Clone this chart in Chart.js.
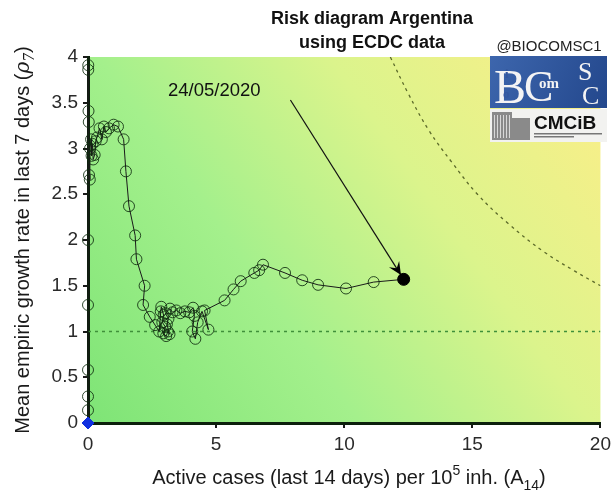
<!DOCTYPE html>
<html>
<head>
<meta charset="utf-8">
<script src="https://cdn.jsdelivr.net/npm/chart.js@4.4.1/dist/chart.umd.min.js"></script>
<style>
  html, body { margin: 0; padding: 0; background: #fff; }
  #wrap { width: 616px; height: 498px; position: relative; }
</style>
</head>
<body>
<div id="wrap"><canvas id="risk"></canvas></div>
<script>
// Argentina: active cases in last 14 days per 1e5 inh. (A14) against mean growth rate rho7
var casesA14 = [
  0.00, 0.00, 0.00, 0.00, 0.00, 0.00, 0.01, 0.01, 0.02, 0.03,
  0.04, 0.07, 0.08, 0.12, 0.14, 0.18, 0.20, 0.26, 0.30, 0.35,
  0.45, 0.54, 0.62, 0.70, 0.82, 1.00, 1.17, 1.39, 1.48, 1.60,
  1.84, 1.89, 2.21, 2.15, 2.41, 2.62, 2.78, 2.84, 2.86, 2.95,
  2.90, 3.02, 2.94, 3.05, 3.12, 3.18, 3.08, 3.14, 3.02, 3.20,
  3.30, 3.45, 3.60, 3.78, 3.95, 4.10, 4.15, 4.07, 4.19, 4.28,
  4.45, 4.70, 4.55, 5.33, 5.68, 5.96, 6.49, 6.68, 6.83, 7.69,
  8.36, 8.98, 10.07, 11.15, 12.32
];
var growthRho7 = [
  0.00, 0.14, 0.29, 0.58, 1.29, 2.00, 3.91, 3.86, 3.41, 3.29,
  2.71, 2.66, 3.00, 3.10, 2.92, 3.05, 2.88, 2.93, 3.08, 3.12,
  3.22, 3.10, 3.24, 3.18, 3.22, 3.26, 3.24, 3.10, 2.75, 2.37,
  2.05, 1.79, 1.50, 1.29, 1.16, 1.07, 1.00, 1.22, 1.27, 1.18,
  1.10, 1.05, 0.98, 0.95, 1.00, 0.97, 1.08, 1.14, 1.20, 1.25,
  1.21, 1.23, 1.20, 1.22, 1.21, 1.26, 1.17, 1.00, 0.92, 1.10,
  1.22, 1.02, 1.23, 1.34, 1.46, 1.55, 1.64, 1.67, 1.73, 1.64,
  1.56, 1.51, 1.47, 1.54, 1.57
];
var lastDate = "24/05/2020";

// dotted reference curve and rho7 = 1 line
var curveA14  = [11.8, 12.5, 13.3, 14.2, 15.2, 16.4, 17.8, 19.0, 20.0];
var curveRho7 = [4.0, 3.6, 3.2, 2.85, 2.5, 2.18, 1.87, 1.66, 1.5];
var thresholdRho = 1;

// annotation arrow: from label to last point
var arrowA14  = [7.9, 12.32];
var arrowRho7 = [3.53, 1.57];

var xTicks = [0, 5, 10, 15, 20];
var yTicks = [0, 0.5, 1, 1.5, 2, 2.5, 3, 3.5, 4];

function pts(xs, ys) {
  return xs.map(function (x, i) { return { x: x, y: ys[i] }; });
}

var n = casesA14.length;
var ptStyle = casesA14.map(function (v, i) { return i === 0 ? 'rectRot' : 'circle'; });
var ptRadius = casesA14.map(function (v, i) { return i === 0 ? 6 : (i === n - 1 ? 6 : 5.5); });
var ptFill = casesA14.map(function (v, i) {
  if (i === 0) return '#1030e0';
  if (i === n - 1) return '#000';
  return 'rgba(0,0,0,0)';
});
var ptEdge = casesA14.map(function (v, i) {
  if (i === 0) return '#1030e0';
  if (i === n - 1) return '#000';
  return 'rgba(15,45,15,0.85)';
});

var FONT = '"Liberation Sans", Arial, sans-serif';

// green -> yellow risk background
var riskBackground = {
  id: 'riskBackground',
  beforeDraw: function (chart) {
    var a = chart.chartArea, ctx = chart.ctx;
    ctx.save();
    var g = ctx.createLinearGradient(a.left, a.bottom, a.right, a.top);
    g.addColorStop(0, '#7ee476');
    g.addColorStop(0.35, '#a4f08c');
    g.addColorStop(0.65, '#dbf48c');
    g.addColorStop(1, '#fdee88');
    ctx.fillStyle = g;
    ctx.fillRect(a.left, a.top, a.right - a.left, a.bottom - a.top);
    ctx.restore();
  }
};

// draws text pieces with sub/superscripts, returns width
function runs(ctx, parts, x, y, draw) {
  var w = 0;
  parts.forEach(function (p) {
    ctx.font = p.font;
    var dy = p.shift || 0;
    if (draw) ctx.fillText(p.t, x + w, y + dy);
    w += ctx.measureText(p.t).width;
  });
  return w;
}

var decorations = {
  id: 'decorations',
  afterDraw: function (chart) {
    var ctx = chart.ctx, a = chart.chartArea;
    var xs = chart.scales.x, ys = chart.scales.y;
    ctx.save();
    ctx.fillStyle = '#111';
    ctx.textBaseline = 'alphabetic';

    // title
    ctx.textAlign = 'center';
    ctx.font = 'bold 18px ' + FONT;
    ctx.fillText('Risk diagram Argentina', 372, 24);
    ctx.fillText('using ECDC data', 372, 48);

    // account tag
    ctx.font = '15px ' + FONT;
    ctx.fillStyle = '#222';
    ctx.fillText('@BIOCOMSC1', 549, 51);

    // BIOCOMSC logo
    var bx = 490, by = 56;
    var bg = ctx.createLinearGradient(bx, by, bx + 117, by + 52);
    bg.addColorStop(0, '#3d66ad');
    bg.addColorStop(1, '#23478c');
    ctx.fillStyle = bg;
    ctx.fillRect(bx, by, 117, 52);
    ctx.fillStyle = '#f4f4f4';
    ctx.textAlign = 'left';
    ctx.font = '48px "Liberation Serif", serif';
    ctx.fillText('B', bx + 4, by + 47);
    ctx.font = '44px "Liberation Serif", serif';
    ctx.fillText('C', bx + 34, by + 45);
    ctx.font = 'bold 15px "Liberation Serif", serif';
    ctx.fillText('om', bx + 49, by + 32);
    ctx.font = '26px "Liberation Serif", serif';
    ctx.fillText('S', bx + 88, by + 24);
    ctx.fillText('C', bx + 92, by + 48);
    ctx.fillStyle = '#3558a0';
    ctx.font = 'bold 13px "Liberation Serif", serif';
    ctx.fillText('i', bx + 15, by + 22);
    ctx.fillText('o', bx + 13, by + 42);

    // CMCiB logo
    var cx = 490, cy = 109;
    ctx.fillStyle = '#f2f2f0';
    ctx.fillRect(cx, cy, 117, 33);
    ctx.fillStyle = '#8a8a8a';
    ctx.fillRect(cx + 2, cy + 3, 20, 28);
    ctx.fillRect(cx + 22, cy + 9, 18, 22);
    ctx.fillStyle = '#d8d8d8';
    for (var k = 0; k < 6; k++) ctx.fillRect(cx + 4 + k * 3, cy + 6, 1, 23);
    ctx.fillStyle = '#111';
    ctx.font = 'bold 19px ' + FONT;
    ctx.fillText('CMCiB', cx + 44, cy + 20);
    ctx.fillStyle = '#777';
    ctx.fillRect(cx + 44, cy + 24, 68, 1.5);
    ctx.fillRect(cx + 44, cy + 27, 40, 1.5);

    // y axis title with rho_7
    var f = '20px ' + FONT;
    var fs = '14px ' + FONT;
    var yParts = [
      { t: 'Mean empiric growth rate in last 7 days (', font: f },
      { t: '\u03c1', font: 'italic 20px "DejaVu Serif", serif' },
      { t: '7', font: 'italic 14px "DejaVu Serif", serif', shift: 5 },
      { t: ')', font: f }
    ];
    ctx.fillStyle = '#1a1a1a';
    ctx.textAlign = 'left';
    ctx.translate(29, (a.top + a.bottom) / 2);
    ctx.rotate(-Math.PI / 2);
    var wy = runs(ctx, yParts, 0, 0, false);
    runs(ctx, yParts, -wy / 2, 0, true);
    ctx.setTransform(1, 0, 0, 1, 0, 0);

    // x axis title with 10^5 and A_14
    var xParts = [
      { t: 'Active cases (last 14 days) per 10', font: f },
      { t: '5', font: fs, shift: -9 },
      { t: ' inh. (A', font: f },
      { t: '14', font: fs, shift: 6 },
      { t: ')', font: f }
    ];
    var wx = runs(ctx, xParts, 0, 0, false);
    runs(ctx, xParts, 349 - wx / 2, 484, true);

    // date label and arrowhead
    ctx.font = '18.5px ' + FONT;
    ctx.fillStyle = '#111';
    ctx.textAlign = 'center';
    ctx.fillText(lastDate, xs.getPixelForValue(4.93), ys.getPixelForValue(3.57));

    var x0 = xs.getPixelForValue(arrowA14[0]), y0 = ys.getPixelForValue(arrowRho7[0]);
    var x1 = xs.getPixelForValue(arrowA14[1]), y1 = ys.getPixelForValue(arrowRho7[1]);
    var ang = Math.atan2(y1 - y0, x1 - x0);
    var tipX = x1 - Math.cos(ang) * 5, tipY = y1 - Math.sin(ang) * 5;
    ctx.translate(tipX, tipY);
    ctx.rotate(ang);
    ctx.beginPath();
    ctx.moveTo(0, 0);
    ctx.lineTo(-13, -6);
    ctx.lineTo(-8, 0);
    ctx.lineTo(-13, 6);
    ctx.closePath();
    ctx.fillStyle = '#000';
    ctx.fill();
    ctx.restore();
  }
};

new Chart(document.getElementById('risk'), {
  type: 'scatter',
  data: {
    datasets: [
      {
        data: pts(casesA14, growthRho7),
        showLine: true,
        borderColor: '#1a1a1a',
        borderWidth: 1,
        pointStyle: ptStyle,
        pointRadius: ptRadius,
        pointBackgroundColor: ptFill,
        pointBorderColor: ptEdge,
        pointBorderWidth: 1,
        clip: false,
        order: 1
      },
      {
        data: pts(arrowA14, arrowRho7),
        showLine: true,
        borderColor: '#111',
        borderWidth: 1.2,
        pointRadius: 0,
        order: 2
      },
      {
        data: [{ x: 0, y: thresholdRho }, { x: 20, y: thresholdRho }],
        showLine: true,
        borderColor: '#3f8f3a',
        borderWidth: 1.3,
        borderDash: [3, 4],
        pointRadius: 0,
        order: 3
      },
      {
        data: pts(curveA14, curveRho7),
        showLine: true,
        tension: 0.4,
        borderColor: '#5c6a2a',
        borderWidth: 1.3,
        borderDash: [3, 4],
        pointRadius: 0,
        order: 4
      }
    ]
  },
  options: {
    responsive: true,
    maintainAspectRatio: false,
    animation: false,
    layout: { padding: { left: 0, top: 57, right: 13, bottom: 0 } },
    plugins: {
      legend: { display: false },
      tooltip: { enabled: false },
      title: { display: false }
    },
    scales: {
      x: {
        type: 'linear',
        min: 0,
        max: 20,
        afterBuildTicks: function (s) { s.ticks = xTicks.map(function (v) { return { value: v }; }); },
        afterFit: function (s) { s.height = 75; },
        ticks: {
          color: '#2a2a2a',
          font: { size: 19, family: FONT },
          padding: 5,
          callback: function (v) { return String(v); }
        },
        grid: { drawOnChartArea: false, drawTicks: true, tickLength: 5, color: '#1a1a1a', lineWidth: 2 },
        border: { display: true, color: '#0c200c', width: 3 }
      },
      y: {
        type: 'linear',
        min: 0,
        max: 4,
        afterBuildTicks: function (s) { s.ticks = yTicks.map(function (v) { return { value: v }; }); },
        afterFit: function (s) { s.width = 88; },
        ticks: {
          color: '#2a2a2a',
          font: { size: 19, family: FONT },
          padding: 5,
          callback: function (v) { return String(v); }
        },
        grid: { drawOnChartArea: false, drawTicks: true, tickLength: 5, color: '#1a1a1a', lineWidth: 2 },
        border: { display: true, color: '#0c200c', width: 3 }
      }
    }
  },
  plugins: [riskBackground, decorations]
});
</script>
</body>
</html>
